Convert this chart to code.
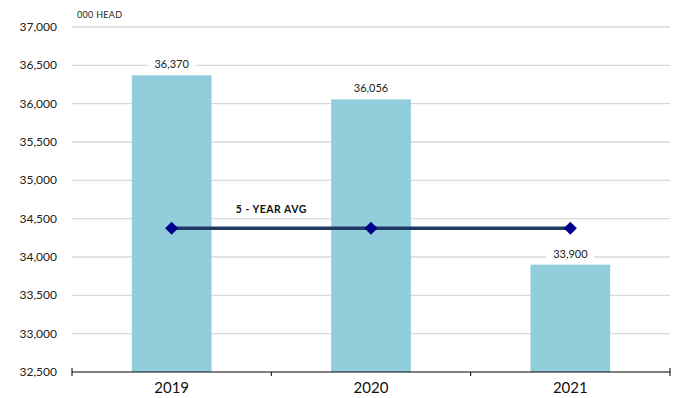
<!DOCTYPE html>
<html>
<head>
<meta charset="utf-8">
<script src="https://cdn.jsdelivr.net/npm/d3@7"></script>
<style>
  body { margin: 0; background: #fff; }
  text { font-family: Lato, "Open Sans", sans-serif; }
</style>
</head>
<body>
<div id="chart"></div>
<script>
const width = 680;
const height = 398;

const years = ["2019", "2020", "2021"];
const heads = [36370, 36056, 33900];
const avg = [34375, 34375, 34375];
const yTicks = [32500, 33000, 33500, 34000, 34500, 35000, 35500, 36000, 36500, 37000];

const margin = { top: 27, right: 10, bottom: 26, left: 72 };

const svg = d3
  .select("#chart")
  .append("svg")
  .attr("width", width)
  .attr("height", height);

const x = d3
  .scaleBand()
  .domain(years)
  .range([margin.left, width - margin.right])
  .paddingInner(0.6)
  .paddingOuter(0.3);

const y = d3
  .scaleLinear()
  .domain([32500, 37000])
  .range([height - margin.bottom, margin.top]);

const fmt = d3.format(",");

// gridlines
svg
  .selectAll("line.grid")
  .data(yTicks.slice(1))
  .enter()
  .append("line")
  .attr("class", "grid")
  .attr("x1", margin.left)
  .attr("x2", width - margin.right)
  .attr("y1", (d) => y(d))
  .attr("y2", (d) => y(d))
  .attr("stroke", "#d9d9d9")
  .attr("stroke-width", 1.3);

// y tick labels
svg
  .selectAll("text.ytick")
  .data(yTicks)
  .enter()
  .append("text")
  .attr("class", "ytick")
  .attr("x", 57)
  .attr("y", (d) => y(d) + 4)
  .attr("text-anchor", "end")
  .attr("font-size", "12px")
  .attr("fill", "#222")
  .text((d) => fmt(d));

svg
  .append("text")
  .attr("x", 77)
  .attr("y", 18)
  .attr("font-size", "9px")
  .attr("letter-spacing", "0.3px")
  .attr("fill", "#222")
  .text("000 HEAD");

// bars
svg
  .selectAll("rect.bar")
  .data(years)
  .enter()
  .append("rect")
  .attr("class", "bar")
  .attr("x", (d) => x(d))
  .attr("y", (d, i) => y(heads[i]))
  .attr("width", x.bandwidth())
  .attr("height", (d, i) => y(32500) - y(heads[i]))
  .attr("fill", "#92cddc");

// value labels with white box
const labels = svg
  .selectAll("g.vlabel")
  .data(years)
  .enter()
  .append("g")
  .attr("class", "vlabel")
  .attr("transform", (d, i) => `translate(${x(d) + x.bandwidth() / 2},${y(heads[i]) - 10})`);

labels
  .append("rect")
  .attr("x", -24)
  .attr("y", -8)
  .attr("width", 48)
  .attr("height", 14)
  .attr("fill", "#fff");

labels
  .append("text")
  .attr("text-anchor", "middle")
  .attr("y", 3)
  .attr("font-size", "11px")
  .attr("fill", "#222")
  .text((d, i) => fmt(heads[i]));

// x axis
const xAxisY = y(32500);
svg
  .append("line")
  .attr("x1", margin.left)
  .attr("x2", width - margin.right)
  .attr("y1", xAxisY)
  .attr("y2", xAxisY)
  .attr("stroke", "#000")
  .attr("stroke-width", 1);

const bounds = [margin.left].concat(years.map((d) => x(d) + x.bandwidth() + (x.step() - x.bandwidth()) / 2));
svg
  .selectAll("line.xtick")
  .data(bounds)
  .enter()
  .append("line")
  .attr("class", "xtick")
  .attr("x1", (d) => d)
  .attr("x2", (d) => d)
  .attr("y1", (d, i) => (i === 0 || i === bounds.length - 1 ? xAxisY - 4 : xAxisY))
  .attr("y2", xAxisY + 4)
  .attr("stroke", "#000");

svg
  .selectAll("text.xlabel")
  .data(years)
  .enter()
  .append("text")
  .attr("class", "xlabel")
  .attr("x", (d) => x(d) + x.bandwidth() / 2)
  .attr("y", 393)
  .attr("text-anchor", "middle")
  .attr("font-size", "15px")
  .attr("fill", "#111")
  .text((d) => d);

// 5-year average line
const line = d3
  .line()
  .x((d, i) => x(years[i]) + x.bandwidth() / 2)
  .y((d) => y(d));

svg
  .append("path")
  .datum(avg)
  .attr("d", line)
  .attr("fill", "none")
  .attr("stroke", "#1f3864")
  .attr("stroke-width", 3.5);

svg
  .selectAll("path.marker")
  .data(avg)
  .enter()
  .append("path")
  .attr("class", "marker")
  .attr("d", d3.symbol().type(d3.symbolDiamond2).size(110))
  .attr("transform", (d, i) => `translate(${x(years[i]) + x.bandwidth() / 2},${y(d)})`)
  .attr("fill", "#00008b");

const avgLabel = svg
  .append("g")
  .attr("transform", `translate(${(x("2019") + x("2020") + x.bandwidth()) / 2},${y(avg[0]) - 19})`);

avgLabel
  .append("rect")
  .attr("x", -40)
  .attr("y", -8)
  .attr("width", 80)
  .attr("height", 15)
  .attr("fill", "#fff");

avgLabel
  .append("text")
  .attr("text-anchor", "middle")
  .attr("y", 4)
  .attr("font-size", "10.5px")
  .attr("font-weight", "bold")
  .attr("letter-spacing", "0.5px")
  .attr("fill", "#111")
  .text("5 - YEAR AVG");
</script>
</body>
</html>
